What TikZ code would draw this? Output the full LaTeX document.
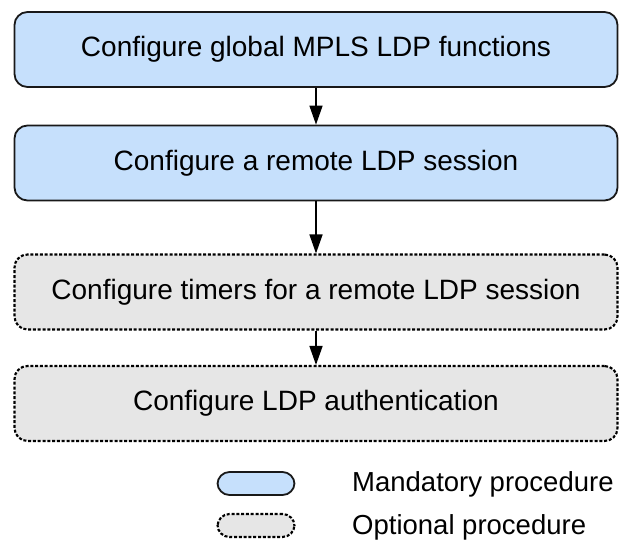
\documentclass[tikz,border=0pt]{standalone}
\usepackage{fontspec}
\setmainfont{Liberation Sans}
\usetikzlibrary{arrows.meta}
\definecolor{mandfill}{RGB}{198,224,252}
\definecolor{optfill}{RGB}{230,230,230}
\begin{document}
\begin{tikzpicture}[x=1pt,y=-1pt,
  procbox/.style={rectangle, rounded corners=13pt, line width=1.8pt,
    minimum width=603pt, minimum height=75pt, inner sep=0pt,
    font=\fontsize{28}{33}\selectfont},
  mandatory/.style={procbox, draw=black!90, fill=mandfill},
  dotline/.style={draw=black, line width=2.1pt, dash pattern=on 3pt off 1.8pt},
  optional/.style={procbox, fill=optfill, dotline},
  legendpill/.style={rectangle, rounded corners=12pt, line width=1.8pt,
    minimum width=77pt, minimum height=23pt, inner sep=0pt},
  flow/.style={line width=1.5pt, -{Triangle[length=19pt,width=13pt]}},
  legendtext/.style={anchor=west, inner sep=0pt, font=\fontsize{27.5}{32}\selectfont}]
  \useasboundingbox (0,0) rectangle (620,539);

  % procedure steps
  \node[mandatory] (global)  at (316,49.5) {Configure global MPLS LDP functions};
  \node[mandatory] (remote)  at (316,163)  {Configure a remote LDP session};
  \node[optional]  (timers)  at (316,292)  {Configure timers for a remote LDP session};
  \node[optional]  (auth)    at (316,403.5){Configure LDP authentication};

  \draw[flow] (global) -- (remote);
  \draw[flow] (remote) -- (timers);
  \draw[flow] (timers) -- (auth);

  % legend
  \node[legendpill, draw=black!90, fill=mandfill] (lmand) at (256,483.5) {};
  \node[legendpill, fill=optfill, dotline] (lopt) at (256,525.5) {};
  \node[legendtext] (tmand) at (352,484) {Mandatory procedure};
  \node[legendtext] (topt)  at (352,527) {Optional procedure};
\end{tikzpicture}
\end{document}
